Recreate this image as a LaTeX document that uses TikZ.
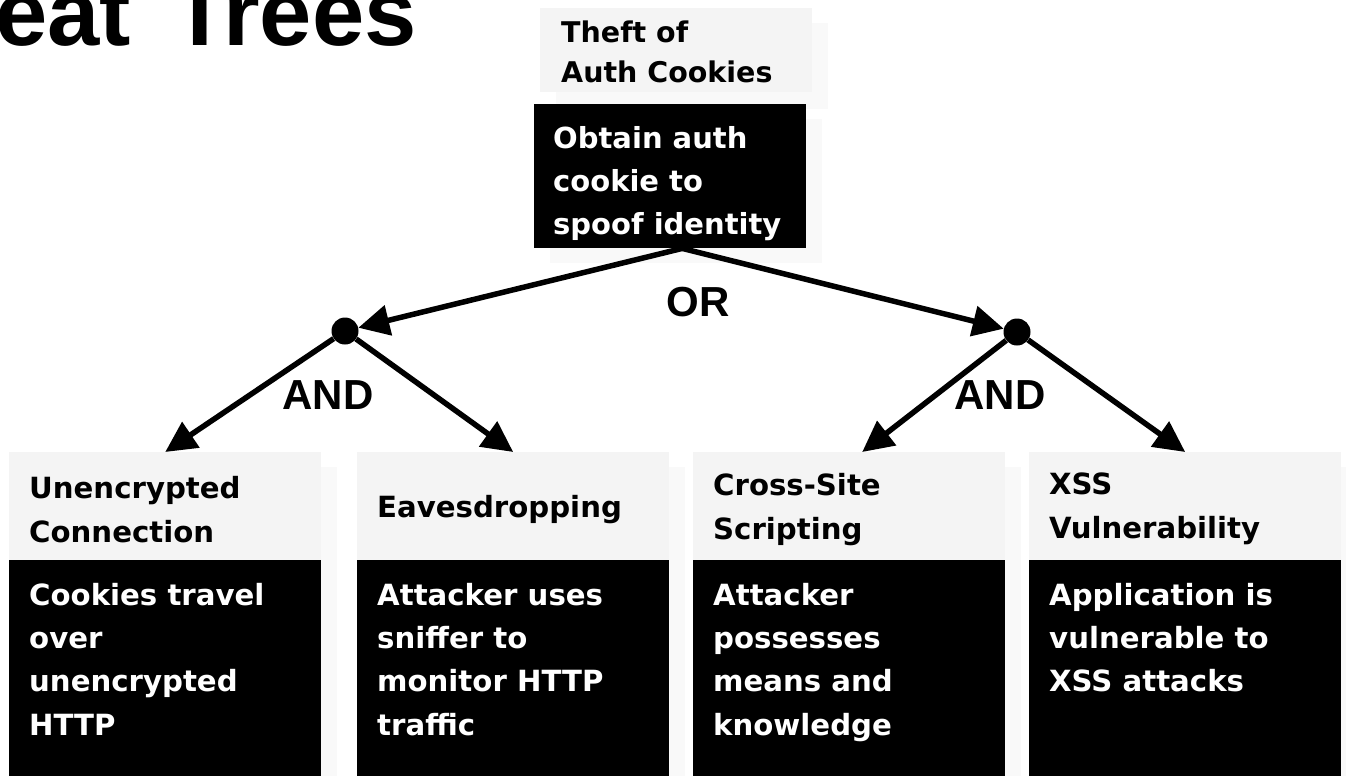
\documentclass[tikz,border=0pt]{standalone}
\usepackage{fontspec}
\usepackage{tikz}
\usetikzlibrary{arrows.meta}
\usetikzlibrary{calc}
\newfontfamily\boxfont{DejaVu Sans}
\newfontfamily\gatefont{Liberation Sans}
\definecolor{headgray}{HTML}{F4F4F4}
\definecolor{ghostgray}{HTML}{F9F9F9}

\begin{document}
\begin{tikzpicture}[x=1pt,y=-1pt,
  headbox/.style={fill=headgray,inner sep=0pt,minimum width=312pt,minimum height=108pt,anchor=north west},
  bodybox/.style={fill=black,inner sep=0pt,minimum width=312pt,minimum height=216pt,anchor=north west},
  headtext/.style={anchor=west,align=left,inner sep=0pt,font=\boxfont\bfseries\fontsize{29.2}{44}\selectfont},
  bodytext/.style={anchor=north west,align=left,inner sep=0pt,text=white,font=\boxfont\bfseries\fontsize{29.2}{43.3}\selectfont},
  gate/.style={circle,fill=black,inner sep=0pt,minimum size=27pt},
  gatelabel/.style={inner sep=0pt,font=\gatefont\bfseries\fontsize{42}{42}\selectfont},
  arr/.style={line width=5.5pt,-{Triangle[length=31pt,width=30pt]}}]
  \path[use as bounding box] (0,0) rectangle (1346,776);
  \clip (0,0) rectangle (1346,776);
%%\draw[step=100pt,color=black!20,dotted] (0,0) grid (1346,776);
  \node[anchor=base east,inner sep=0pt,font=\gatefont\bfseries\fontsize{94}{94}\selectfont] (title) at (417,46) {eat\hspace{14pt} Trees};
  % faded copies behind the boxes
  \fill[ghostgray] (556,23) rectangle (828,109);
  \fill[ghostgray] (550,119) rectangle (822,263);
  \foreach \x in {9,357,693,1029}
    \fill[ghostgray] (\x+16,467) rectangle (\x+328,776);
  % goal
  \node[headbox,minimum width=272pt,minimum height=84pt] (top) at (540,8) {};
  \node[headtext,anchor=north west,font=\boxfont\bfseries\fontsize{28.5}{40}\selectfont] at ([xshift=21pt,yshift=-13pt]top.north west) {Theft of\\Auth Cookies};
  \node[bodybox,minimum width=272pt,minimum height=144pt] (root) at (534,104) {};
  \node[bodytext,font=\boxfont\bfseries\fontsize{29}{43}\selectfont] at ([xshift=19pt,yshift=-22pt]root.north west) {Obtain auth\\cookie to\\spoof identity};
  % leaves
  \foreach \x/\n/\head/\body in {9/A/{Unencrypted\\Connection}/{Cookies travel\\over\\unencrypted\\HTTP},
      357/B/{Eavesdropping}/{Attacker uses\\sniffer to\\monitor HTTP\\traffic},
      693/C/{Cross-Site\\Scripting}/{Attacker\\possesses\\means and\\knowledge},
      1029/D/{XSS\\Vulnerability}/{Application is\\vulnerable to\\XSS attacks}}
  {
    \node[headbox] (hd\n) at (\x,452) {};
    \node[headtext] at ([xshift=20pt,yshift=-3pt]hd\n.west) {\head};
    \node[bodybox] (bd\n) at (\x,560) {};
    \node[bodytext] at ([xshift=20pt,yshift=-23pt]bd\n.north west) {\body};
  }
  \node[gate] (andL) at (345,331) {};
  \node[gate] (andR) at (1017,332) {};
  \node[gatelabel] (lbOR) at (698,302) {OR};
  \node[gatelabel] (lbAndL) at (328,395) {AND};
  \node[gatelabel] (lbAndR) at (1000,395) {AND};
  \draw[arr] ([xshift=12pt]root.south) -- (andL);
  \draw[arr] ([xshift=12pt]root.south) -- (andR);
  \draw[arr] (andL) -- (hdA.north);
  \draw[arr] (andL) -- (hdB.north);
  \draw[arr] (andR) -- ([xshift=13pt]hdC.north);
  \draw[arr] (andR) -- (hdD.north);
\end{tikzpicture}
\end{document}
